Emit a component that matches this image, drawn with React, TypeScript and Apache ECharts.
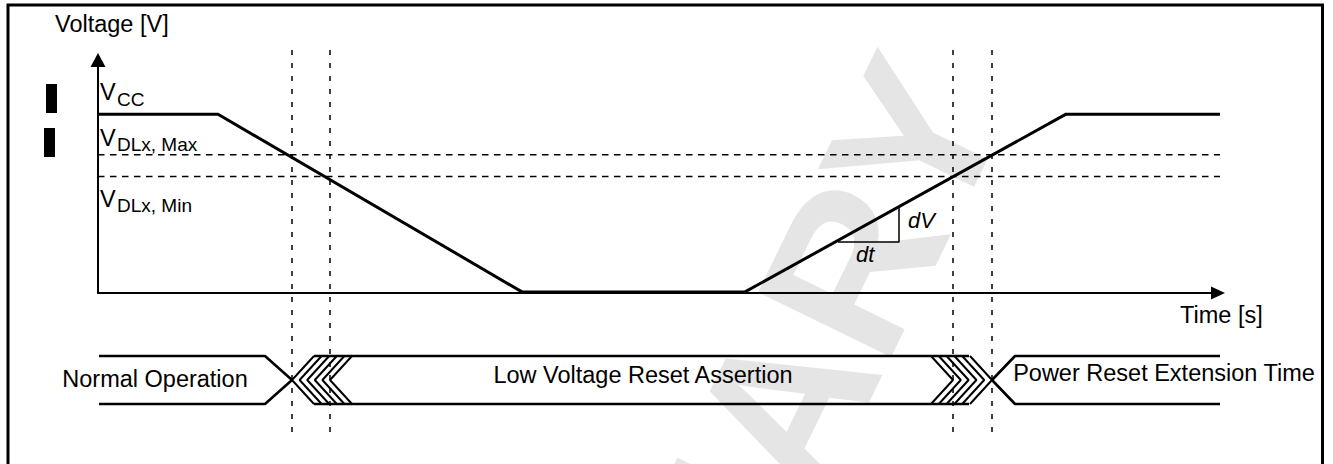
import React, { useEffect, useRef } from "react";
import * as echarts from "echarts";

// ---- data (time in arbitrary units, voltage in V) ----
const waveTime = [0, 12, 42.4, 64.7, 96.8, 113.7];
const waveVolt = [3.3, 3.3, 0.02, 0.02, 3.3, 3.3];
const thresholdVolts = [2.55, 2.15]; // VDLx,Max / VDLx,Min
const thresholdEndTime = 113.9;
const markerTimes = [19.4, 23.2, 85.5, 89.4];
const markerSpan = [0, 39];
const slopeTime = [74.0, 80.1, 80.1];
const slopeVolt = [0.94, 0.94, 1.587];
// bus (timing) diagram levels in lower panel units
const busHigh = 7.6;
const busMid = 5.2;
const busLow = 2.8;
const normalOpTime = [0.1, 16.7, 19.4];
const leftChevronTips = [19.4, 20.16, 20.92, 21.68, 22.44, 23.2];
const rightChevronTips = [85.5, 86.28, 87.06, 87.84, 88.62, 89.4];
const chevronSlant = 2.2;
const assertionTime = [21.6, 87.1];
const extensionTime = [89.4, 91.7, 112.9];
const busLabels = ["Normal Operation", "Low Voltage Reset Assertion", "Power Reset Extension Time"];

const FONT = '"Liberation Sans", Arial, Helvetica, sans-serif';

export default function App() {
  const ref = useRef<HTMLDivElement>(null);
  useEffect(() => {
    if (!ref.current) return;
    const chart = echarts.init(ref.current, null, { renderer: "svg" });

    const black = "#000";
    const lineSeries = (data: any[], grid: number, width: number, dash?: number[], z = 3) => ({
      type: "line",
      xAxisIndex: grid,
      yAxisIndex: grid,
      data,
      symbol: "none",
      clip: false,
      silent: true,
      z,
      lineStyle: { color: black, width, type: dash ? dash : "solid" },
    });

    const series: any[] = [];
    series.push(lineSeries(waveTime.map((t, i) => [t, waveVolt[i]]), 0, 3, undefined, 5));
    thresholdVolts.forEach((v) => series.push(lineSeries([[0, v], [thresholdEndTime, v]], 0, 1.5, [6.5, 5.5])));
    series.push(lineSeries(slopeTime.map((t, i) => [t, slopeVolt[i]]), 0, 1.5));
    markerTimes.forEach((t) => series.push(lineSeries([[t, markerSpan[0]], [t, markerSpan[1]]], 1, 1.5, [5, 8])));
    series.push(lineSeries([[normalOpTime[0], busHigh], [normalOpTime[1], busHigh], [normalOpTime[2], busMid]], 1, 2.6));
    series.push(lineSeries([[normalOpTime[0], busLow], [normalOpTime[1], busLow], [normalOpTime[2], busMid]], 1, 2.6));
    leftChevronTips.forEach((t) =>
      series.push(lineSeries([[t + chevronSlant, busHigh], [t, busMid], [t + chevronSlant, busLow]], 1, 2))
    );
    series.push(lineSeries([[assertionTime[0], busHigh], [assertionTime[1], busHigh]], 1, 2.6));
    series.push(lineSeries([[assertionTime[0], busLow], [assertionTime[1], busLow]], 1, 2.6));
    rightChevronTips.forEach((t) =>
      series.push(lineSeries([[t - chevronSlant, busHigh], [t, busMid], [t - chevronSlant, busLow]], 1, 2))
    );
    series.push(lineSeries([[extensionTime[0], busMid], [extensionTime[1], busHigh], [extensionTime[2], busHigh]], 1, 2.6));
    series.push(lineSeries([[extensionTime[0], busMid], [extensionTime[1], busLow], [extensionTime[2], busLow]], 1, 2.6));

    const txt = (text: string, x: number, y: number, size: number, align = "left", extra: any = {}) => ({
      type: "text",
      x,
      y,
      silent: true,
      z: 10,
      style: { text, fontSize: size, fontFamily: FONT, fill: black, align, verticalAlign: "middle", ...extra },
    });

    const graphic: any[] = [
      {
        type: "text",
        x: 945,
        y: 76,
        rotation: (64 * Math.PI) / 180,
        z: -10,
        silent: true,
        style: {
          text: "PRELIMINARY",
          fontSize: 215,
          fontWeight: "bold",
          fontFamily: FONT,
          fill: "#e5e5e5",
          align: "right",
          verticalAlign: "middle",
        },
      },
      {
        type: "rect",
        shape: { x: 8, y: 5, width: 1314.5, height: 520 },
        style: { fill: "none", stroke: black, lineWidth: 3 },
        silent: true,
        z: 10,
      },
      { type: "rect", shape: { x: 46, y: 84, width: 11, height: 29 }, style: { fill: black }, silent: true },
      { type: "rect", shape: { x: 44, y: 128, width: 11, height: 29 }, style: { fill: black }, silent: true },
      txt("Voltage [V]", 55, 24, 23.5),
      txt("V", 100, 92, 23.5),
      txt("CC", 117, 99, 19),
      txt("V", 100, 138, 23.5),
      txt("DLx, Max", 117, 144, 19),
      txt("V", 100, 199, 23.5),
      txt("DLx, Min", 117, 205, 19),
      txt("dV", 908, 220, 22, "left", { fontStyle: "italic" }),
      txt("dt", 856, 254, 22, "left", { fontStyle: "italic" }),
      txt("Time [s]", 1180, 315, 23.5),
      txt(busLabels[0], 155, 379, 23.5, "center"),
      txt(busLabels[1], 643, 375, 23.5, "center"),
      txt(busLabels[2], 1164, 373, 23.5, "center"),
    ];

    chart.setOption({
      animation: false,
      backgroundColor: "#fff",
      grid: [
        { left: 98, top: 60, width: 1120, height: 233, containLabel: false },
        { left: 98, top: 42, width: 1120, height: 390, containLabel: false },
      ],
      xAxis: [
        {
          type: "value",
          gridIndex: 0,
          min: 0,
          max: 112,
          axisLine: {
            show: true,
            onZero: false,
            symbol: ["none", "triangle"],
            symbolSize: [13, 14],
            lineStyle: { color: black, width: 1.8 },
          },
          axisTick: { show: false },
          axisLabel: { show: false },
          splitLine: { show: false },
        },
        { type: "value", gridIndex: 1, min: 0, max: 112, show: false },
      ],
      yAxis: [
        {
          type: "value",
          gridIndex: 0,
          min: 0,
          max: 4.3,
          axisLine: {
            show: true,
            onZero: false,
            symbol: ["none", "triangle"],
            symbolSize: [15, 14],
            lineStyle: { color: black, width: 2 },
          },
          axisTick: { show: false },
          axisLabel: { show: false },
          splitLine: { show: false },
        },
        { type: "value", gridIndex: 1, min: 0, max: 39, show: false },
      ],
      series,
      graphic,
    });
    return () => chart.dispose();
  }, []);
  return (
    <div
      ref={ref}
      style={{ position: "fixed", left: 0, top: 0, width: 1333, height: 464, background: "#fff" }}
    />
  );
}
